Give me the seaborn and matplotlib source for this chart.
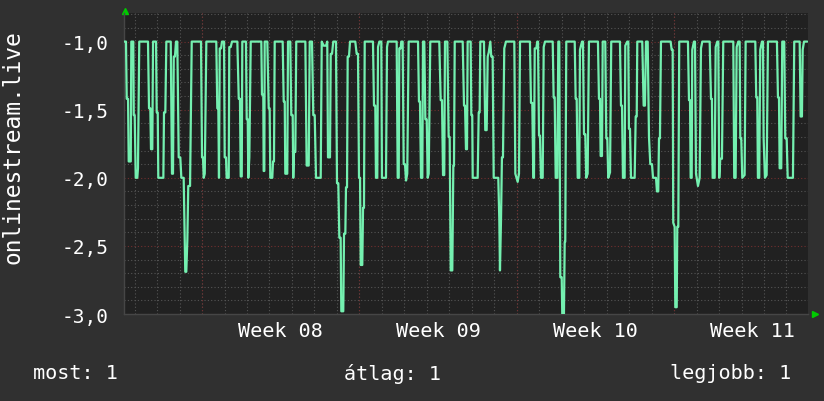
import pandas as pd
import matplotlib
matplotlib.use("Agg")
import matplotlib.pyplot as plt
import matplotlib.dates as mdates
from matplotlib.ticker import MultipleLocator, FuncFormatter
import seaborn as sns

# data (hours since window start, value)
start = pd.Timestamp("2025-02-13 12:42")
window_hours = 730.2
hours = [
    0, 2.1, 2.9, 4.3, 5.0, 7.2, 7.8, 9.9, 10.4, 11.4, 12.5, 14.2, 14.9, 16.3,
    25.6, 26.7, 28.1, 28.8, 30.2, 31.0, 34.2, 34.9, 36.0, 36.6, 42.0, 42.7, 44.1,
    45.2, 49.9, 51.2, 52.3, 53.1, 54.4, 55.5, 56.9, 58.4, 60.1, 61.2, 63.7, 64.8,
    65.4, 66.5, 67.6, 68.6, 70.5, 72.3, 82.2, 83.3, 84.3, 85.1, 86.2, 87.9, 98.5,
    99.6, 100.7, 101.4, 102.2, 103.6, 104.6, 106.8, 107.5, 108.9, 109.6, 111.8,
    112.4, 113.9, 115.3, 121.0, 122.5, 123.8, 124.6, 125.7, 126.3, 130.2, 131.0,
    132.1, 132.7, 133.8, 135.3, 145.5,
    146.6, 147.3, 148.7, 149.1, 149.8, 150.2, 153.0, 154.5, 155.5, 156.2, 158.3,
    159.1, 160.1, 160.9, 169.4, 170.5, 171.6, 172.2, 174.3, 175.1, 177.5, 178.6,
    180.1, 180.7, 181.5, 182.9, 183.9, 193.6, 195.0, 197.2, 198.3, 200.7, 202.1,
    203.6, 205.0, 210.0, 211.1, 213.2, 215.7, 217.0, 217.8, 219.9, 220.7, 222.1,
    223.4, 226.3, 227.4, 228.8, 229.9, 231.3, 232.0, 234.1, 234.9, 236.3, 237.0,
    238.1, 238.8, 240.2, 241.3, 246.9, 248.4, 249.8, 250.9, 252.0, 252.7, 254.4,
    255.2, 256.2, 257.0, 265.8, 266.9, 268.3, 269.0, 270.4, 271.2, 272.6, 274.7,
    275.4, 279.7, 280.8, 281.8, 291.1,
    292.2, 293.3, 293.9, 295.4, 296.0, 297.5, 298.6, 300.0, 301.1, 302.4, 303.9,
    313.9, 314.9, 316.0, 317.1, 318.5, 319.2, 320.6, 321.7, 323.2, 324.2, 325.3,
    327.0, 336.6, 338.1, 339.5, 340.6, 341.9, 342.7, 345.2, 346.6, 347.7, 348.8,
    350.5, 351.6, 352.3, 353.1, 361.6, 363.0, 364.1, 365.1, 366.2, 366.9, 370.1,
    370.8, 371.8, 372.3, 377.6, 378.7, 379.7, 380.4, 384.3, 385.7, 387.2, 388.3,
    389.4, 391.1, 392.1, 393.6, 394.7, 399.6, 400.7, 401.4, 402.5, 403.5, 404.6,
    406.0, 407.8, 416.7, 417.8, 420.3, 421.7, 422.8, 433.4, 434.5, 435.9, 437.0,
    437.7, 438.5, 440.2, 441.2, 442.0, 443.1, 444.1, 445.2, 447.0, 448.1, 449.5,
    457.7, 458.7, 459.8, 460.9, 462.6, 463.7, 464.7, 465.8, 467.3, 467.9, 469.7,
    470.5, 471.1, 472.2, 481.2, 482.2, 483.3, 484.4, 486.1, 486.8, 489.0, 490.0,
    491.1, 492.5, 493.5, 495.0, 496.4, 506.0, 507.1, 508.2, 508.9, 510.3, 511.1,
    513.8, 514.9, 516.0, 517.0, 518.9, 520.2, 529.5, 530.6, 531.7, 532.7, 534.5,
    535.2, 537.3, 538.4, 539.1, 540.2, 541.3, 545.2, 546.3, 547.4, 548.0, 553.3,
    554.8, 556.2, 557.3, 559.1, 560.5, 561.9, 563.7, 564.8, 568.0, 569.0, 570.4,
    571.2, 572.2, 573.3, 582.9,
    583.6, 584.7, 585.8, 586.4, 587.9, 588.6, 590.1, 590.7, 591.8, 592.8, 602.1,
    603.2, 604.3, 605.0, 606.1, 606.7, 608.5, 609.6, 610.7, 612.8, 614.6, 616.0,
    617.4, 625.3, 626.7, 627.7, 628.5, 630.6, 631.7, 633.4, 634.5, 635.5, 636.6,
    638.4, 639.8, 650.5, 651.5, 653.0, 654.1, 655.8, 657.3, 658.0, 659.0, 660.1,
    662.6, 663.7, 674.0, 675.0, 676.1, 676.8, 678.2, 679.3, 681.1, 682.2, 682.9,
    684.3, 686.1, 687.5, 697.1, 698.2, 699.3, 700.0, 701.7, 702.8, 704.9, 706.0,
    707.5, 708.6, 714.2, 715.6, 721.4, 722.4, 723.8, 724.6, 726.0, 729.5,
]
vals = [
    -1.0, -1.0, -1.42, -1.42, -1.88, -1.88, -1.0, -1.0, -1.54, -1.54, -2.0, -2.0, -1.93, -1.0,
    -1.0, -1.49, -1.49, -1.79, -1.79, -1.0, -1.0, -1.52, -1.52, -2.0, -2.0, -1.52, -1.52,
    -1.0, -1.0, -1.97, -1.97, -1.11, -1.11, -1.0, -1.0, -1.85, -1.85, -2.0, -2.0, -2.46,
    -2.69, -2.69, -2.46, -2.06, -2.06, -1.0, -1.0, -1.85, -1.85, -2.0, -1.97, -1.0, -1.0,
    -1.49, -1.49, -2.0, -1.05, -1.05, -1.0, -1.0, -1.85, -1.85, -2.0, -2.0,
    -1.04, -1.04, -1.0, -1.0, -1.42, -1.42, -1.99, -1.99, -1.0, -1.0, -1.57,
    -1.57, -2.0, -1.85, -1.0, -1.0,
    -1.0, -1.39, -1.39, -1.95, -1.95, -1.0, -1.0, -1.49, -1.49, -2.0, -2.0,
    -1.88, -1.88, -1.0, -1.0, -1.44, -1.44, -1.97, -1.97, -1.0, -1.0, -1.54,
    -1.54, -2.0, -1.81, -1.81, -1.0, -1.0, -1.91, -1.91, -1.0, -1.0, -1.54,
    -1.54, -2.0, -2.0, -1.0, -1.03, -1.03, -1.0, -1.85, -1.85, -1.09, -1.09,
    -1.0, -1.0, -2.04, -2.04, -2.44, -2.44, -2.98, -2.98, -2.41, -2.41, -2.07,
    -2.07, -1.11, -1.11, -1.0, -1.0, -1.09, -1.09, -2.0, -2.0, -2.64, -2.64,
    -2.22, -2.22, -1.0, -1.0, -1.47, -1.47, -2.0, -2.0, -1.04, -1.0, -1.0,
    -2.0, -2.0, -1.04, -1.0, -1.0,
    -2.0, -2.0, -1.05, -1.05, -1.0, -1.0, -1.90, -1.90, -2.02, -1.97, -1.0,
    -1.0, -1.44, -1.44, -2.0, -2.0, -1.0, -1.0, -1.57, -1.57, -2.0, -1.97,
    -1.0, -1.0, -1.43, -1.43, -1.98, -1.98, -1.0, -1.0, -1.70, -1.70, -2.68,
    -2.68, -1.91, -1.91, -1.0, -1.0, -1.47, -1.47, -1.79, -1.79, -1.0, -1.0,
    -1.54, -1.54, -2.0, -2.0, -1.52, -1.52, -1.0, -1.0, -1.65, -1.65, -1.11,
    -1.08, -1.0, -1.11, -1.11, -2.0, -2.0, -2.31, -2.68, -2.31, -1.85, -1.85,
    -1.05, -1.0, -1.0, -1.97, -2.03, -1.97, -1.0, -1.0, -1.45, -1.45, -2.0,
    -2.0, -1.05, -1.05, -1.0, -1.0, -1.69, -1.69, -2.0, -2.0, -1.04, -1.0,
    -1.0, -1.41, -1.41, -2.0, -2.0, -1.0, -1.0, -2.73, -2.73, -3.0, -3.0,
    -2.47, -2.47, -1.0, -1.0, -1.42, -1.42, -2.0, -2.0, -1.06, -1.0, -1.0,
    -1.68, -1.68, -2.0, -1.97, -1.0, -1.0, -1.42, -1.42, -1.84, -1.84, -1.0,
    -1.0, -1.71, -1.71, -2.0, -1.96, -1.0, -1.0, -1.47, -1.47, -2.0, -2.0,
    -1.03, -1.0, -1.0, -1.64, -1.64, -2.0, -2.0, -1.55, -1.55, -1.0, -1.0,
    -1.47, -1.47, -1.0, -1.0, -1.70, -1.90, -1.90, -2.0, -2.0, -2.1, -2.1,
    -1.71, -1.71, -1.0, -1.0,
    -1.0, -1.06, -1.06, -2.33, -2.36, -2.95, -2.95, -2.36, -2.36, -1.0, -1.0,
    -1.43, -1.43, -2.0, -2.0, -1.06, -1.0, -1.0, -1.97, -2.06, -2.0, -1.05,
    -1.0, -1.0, -1.42, -1.42, -2.0, -2.0, -1.04, -1.0, -1.0, -2.0, -1.86,
    -1.86, -1.0, -1.0, -2.0, -2.0, -1.04, -1.0, -1.0, -1.71, -1.71, -2.0,
    -1.98, -1.0, -1.0, -1.41, -1.41, -2.0, -2.0, -1.06, -1.0, -1.0, -1.71,
    -2.0, -1.98, -1.0, -1.0, -1.41, -1.41, -1.93, -1.93, -1.0, -1.0, -1.71,
    -1.71, -2.0, -2.0, -1.0, -1.0, -1.55, -1.55, -1.06, -1.0, -1.0,
]

series_name = "onlinestream.live"
week_labels = ["Week 08", "Week 09", "Week 10", "Week 11"]
week_starts = pd.to_datetime(["2025-02-17", "2025-02-24", "2025-03-03", "2025-03-10"])
legend_items = ["most: 1", "átlag: 1", "legjobb: 1"]

BG = "#303030"
PLOT_BG = "#212121"
GRID = "#555555"
GRID_RED = "#722f2f"
LINE = "#74f0b0"

df = pd.DataFrame({"time": start + pd.to_timedelta(hours, unit="h"), "value": vals})

sns.set_style("dark", rc={"axes.facecolor": PLOT_BG, "figure.facecolor": BG})
plt.rcParams["font.family"] = ["DejaVu Sans Mono", "DejaVu Sans"]

fig = plt.figure(figsize=(8.24, 4.02), dpi=100, facecolor=BG)
ax = fig.add_axes([0.1505, 0.2164, 0.830, 0.7488])
ax.set_facecolor(PLOT_BG)

sns.lineplot(data=df, x="time", y="value", ax=ax, color=LINE, lw=1.6,
             estimator=None, zorder=5)

ax.set_xlim(start, start + pd.Timedelta(hours=window_hours))
ax.set_ylim(-3.0, -0.79)

# grid: dotted grey for days / 0.1, dotted red for weeks / 0.5
ax.set_axisbelow(True)
ax.xaxis.set_minor_locator(mdates.DayLocator())
ax.yaxis.set_major_locator(MultipleLocator(0.5))
ax.yaxis.set_minor_locator(MultipleLocator(0.1))
ax.yaxis.set_major_formatter(FuncFormatter(lambda v, _: f"{v:.1f}".replace(".", ",")))
ax.grid(which="minor", color=GRID, ls=(0, (1, 2)), lw=0.8)
ax.grid(which="major", axis="y", color=GRID_RED, ls=(0, (1, 2)), lw=0.8)
ax.grid(which="major", axis="x", visible=False)
for ws in week_starts:
    ax.axvline(ws, color=GRID_RED, ls=(0, (1, 2)), lw=0.8, zorder=1)

ax.set_xticks(week_starts + pd.Timedelta(hours=84))
ax.set_xticklabels(week_labels)
ax.tick_params(axis="both", which="both", length=0, colors="white")
ax.tick_params(axis="y", labelsize=14, pad=11)
ax.tick_params(axis="x", labelsize=14.5, pad=5)
ax.set_xlabel("")
ax.set_ylabel("")

for side in ["top", "right"]:
    ax.spines[side].set_visible(False)
for side in ["left", "bottom"]:
    ax.spines[side].set_color("#464646")
    ax.spines[side].set_linewidth(1)

# little green arrows at the axis ends
ax.plot([0.0015], [1.008], marker="^", color="#00cc00", ms=5, transform=ax.transAxes, clip_on=False)
ax.plot([1.01], [0.0], marker=">", color="#00cc00", ms=5, transform=ax.transAxes, clip_on=False)

fig.text(13 / 824, 0.634, series_name, rotation=90, color="white", fontsize=16.5,
         ha="center", va="center")
fig.text(33 / 824, 0.07, legend_items[0], color="white", fontsize=14.5, ha="left", va="center")
fig.text(392 / 824, 0.07, legend_items[1], color="white", fontsize=14.5, ha="center", va="center")
fig.text(791 / 824, 0.07, legend_items[2], color="white", fontsize=14.5, ha="right", va="center")

fig.savefig("out.png", dpi=100, facecolor=BG)
